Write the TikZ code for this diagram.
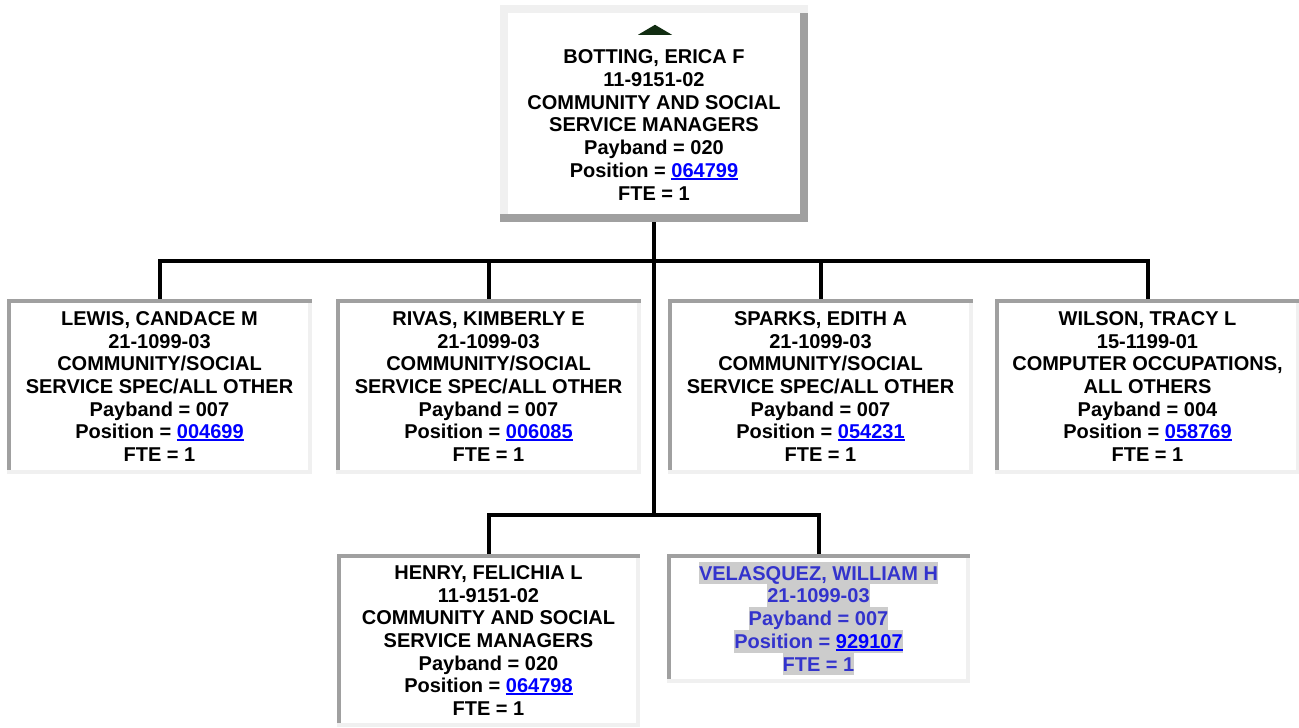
\documentclass[tikz,border=0pt]{standalone}
\usepackage{fontspec}
\setmainfont{Liberation Sans}
\usetikzlibrary{calc, positioning}
\definecolor{orgdark}{RGB}{160,160,160}
\definecolor{orglight}{RGB}{240,240,240}
\definecolor{orglink}{RGB}{0,0,255}
\definecolor{orgviolet}{RGB}{51,51,204}
\definecolor{orghl}{RGB}{204,204,204}
\definecolor{orggreen}{RGB}{18,45,18}
\newcommand{\poslink}[1]{\textcolor{orglink}{\setbox0\hbox{#1}\rlap{\rule[-2.6pt]{\wd0}{2pt}}\box0}}
\newcommand{\hlline}[1]{{\setlength{\fboxsep}{0pt}\colorbox{orghl}{\rule[-4.2pt]{0pt}{22.7pt}#1}}}
% bevelled frame: node, width, top/left colour, bottom/right colour
\newcommand{\bevel}[4]{%
  \fill[#3] (#1.north west) rectangle ([yshift=-#2]#1.north east);
  \fill[#4] ([yshift=#2]#1.south west) rectangle (#1.south east);
  \fill[#3] ([yshift=-#2]#1.north west) rectangle ([xshift=#2,yshift=#2]#1.south west);
  \fill[#4] ([xshift=-#2,yshift=-#2]#1.north east) rectangle ([yshift=#2]#1.south east);
}
\tikzset{
    personbox/.style={fill=white, inner sep=0pt, minimum width=305pt, minimum height=175pt, align=center, font=\fontsize{20}{22.7}\selectfont\bfseries},
    orgline/.style={line width=4pt, draw=black},
    note/.style={inner sep=0pt, align=center, font=\fontsize{20}{22.7}\selectfont\bfseries}
}
\begin{document}
\begin{tikzpicture}[x=1pt,y=-1pt]
    \useasboundingbox (0,0) rectangle (1299,728);
    % manager
    \node[personbox, minimum width=308pt, minimum height=217pt] (top) at (654,113.5) {};
    \bevel{top}{8pt}{orglight}{orgdark}
    \fill[orggreen] ($(top.north)+(-16,30)$) -- ($(top.north)+(18,30)$) -- ($(top.north)+(1,20)$) -- cycle;
    \node[note] (botting) at (654,125) {BOTTING, ERICA F\\11-9151-02\\COMMUNITY AND SOCIAL\\SERVICE MANAGERS\\Payband = 020\\Position = \poslink{064799}\\FTE = 1};
    \coordinate (bus1) at (654,261);
    \coordinate (bus2) at (654,515);
    \draw[orgline] (top.south) -- (bus1) -- (bus2);
    % first row
    \foreach \n/\x/\txt in {%
        lewis/159.5/{LEWIS, CANDACE M\\21-1099-03\\COMMUNITY/SOCIAL\\SERVICE SPEC/ALL OTHER\\Payband = 007\\Position = \poslink{004699}\\FTE = 1},
        rivas/488.5/{RIVAS, KIMBERLY E\\21-1099-03\\COMMUNITY/SOCIAL\\SERVICE SPEC/ALL OTHER\\Payband = 007\\Position = \poslink{006085}\\FTE = 1},
        sparks/820.5/{SPARKS, EDITH A\\21-1099-03\\COMMUNITY/SOCIAL\\SERVICE SPEC/ALL OTHER\\Payband = 007\\Position = \poslink{054231}\\FTE = 1},
        wilson/1147.5/{WILSON, TRACY L\\15-1199-01\\COMPUTER OCCUPATIONS,\\ALL OTHERS\\Payband = 004\\Position = \poslink{058769}\\FTE = 1}} {
        \node[personbox, minimum width=305pt] (\n) at (\x,386.5) {\txt};
        \bevel{\n}{4pt}{orgdark}{orglight}
        \draw[orgline] (bus1) -| (\n.north);
    }
    % second row
    \node[personbox, minimum width=303pt, minimum height=173pt] (henry) at (488.5,640.5) {HENRY, FELICHIA L\\11-9151-02\\COMMUNITY AND SOCIAL\\SERVICE MANAGERS\\Payband = 020\\Position = \poslink{064798}\\FTE = 1};
    \bevel{henry}{4pt}{orgdark}{orglight}
    \node[personbox, text=orgviolet, minimum width=303pt, minimum height=129pt] (velasquez) at (818.5,618.5) {\hlline{VELASQUEZ, WILLIAM H}\\\hlline{21-1099-03}\\\hlline{Payband = 007}\\\hlline{Position = \poslink{929107}}\\\hlline{FTE = 1}};
    \bevel{velasquez}{4pt}{orgdark}{orglight}
    \draw[orgline] (bus2) -| (henry.north);
    \draw[orgline] (bus2) -| (velasquez.north);
\end{tikzpicture}
\end{document}
